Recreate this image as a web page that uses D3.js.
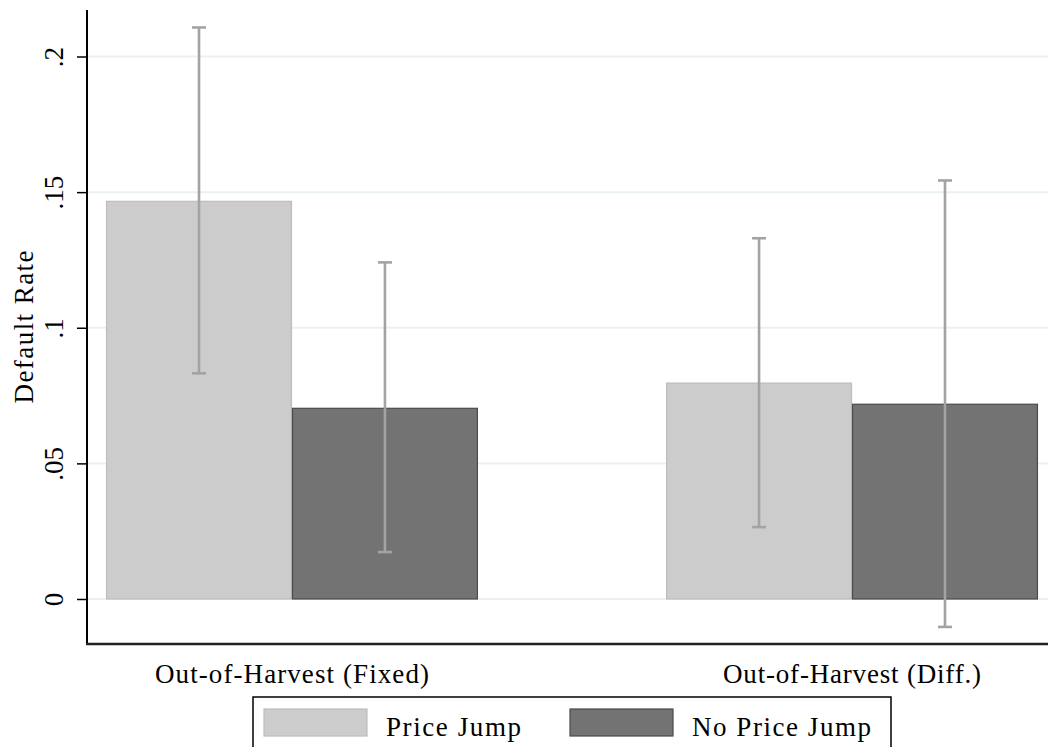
<!DOCTYPE html>
<html><head><meta charset="utf-8">
<script src="https://cdn.jsdelivr.net/npm/d3@7"></script>
<style>body{margin:0;background:#fff}svg{display:block}</style>
</head><body>
<svg id="c" width="1048" height="747"></svg>
<script>
const groups = ["Out-of-Harvest (Fixed)", "Out-of-Harvest (Diff.)"];
const series = ["Price Jump", "No Price Jump"];
const means = [[0.1466, 0.0703], [0.0796, 0.0718]];
const lower = [[0.0832, 0.0173], [0.0265, -0.0103]];
const upper = [[0.2107, 0.1241], [0.1330, 0.1543]];
const yTicks = [0, 0.05, 0.1, 0.15, 0.2];
const yTickLabels = ["0", ".05", ".1", ".15", ".2"];
const colors = ["#cccccc", "#737373"];
const strokes = ["#bdbdbd", "#4a4a4a"];

const svg = d3.select("#c");
const font = "'Liberation Serif', 'DejaVu Serif', serif";
const fs = 27;
const y = d3.scaleLinear().domain([0, 0.2]).range([599, 56.5]);
const x = d3.scaleBand().domain(groups).range([87, 1057]).paddingInner(0.336).paddingOuter(0.034);
const xs = d3.scaleBand().domain(series).range([0, x.bandwidth()]);

// grid
svg.append("g").selectAll("line").data(yTicks).join("line")
  .attr("x1", 88).attr("x2", 1048).attr("y1", d => y(d)).attr("y2", d => y(d))
  .attr("stroke", "#eaf1f3").attr("stroke-width", 2);

// bars
const rows = [];
groups.forEach((g, i) => series.forEach((s, j) => rows.push({g, s, i, j, v: means[i][j], lo: lower[i][j], hi: upper[i][j]})));
svg.append("g").selectAll("rect").data(rows).join("rect")
  .attr("x", d => x(d.g) + xs(d.s) + 0.5)
  .attr("width", xs.bandwidth() - 1)
  .attr("y", d => y(d.v))
  .attr("height", d => y(0) - y(d.v))
  .attr("fill", d => colors[d.j])
  .attr("stroke", d => strokes[d.j]).attr("stroke-width", 1.2);

// error bars
const eb = svg.append("g").attr("stroke", "#a3a3a3").attr("stroke-width", 2.6);
rows.forEach(d => {
  const cx = x(d.g) + xs(d.s) + xs.bandwidth() / 2;
  eb.append("line").attr("x1", cx).attr("x2", cx).attr("y1", y(d.hi)).attr("y2", y(d.lo));
  eb.append("line").attr("x1", cx - 7).attr("x2", cx + 7).attr("y1", y(d.hi)).attr("y2", y(d.hi));
  eb.append("line").attr("x1", cx - 7).attr("x2", cx + 7).attr("y1", y(d.lo)).attr("y2", y(d.lo));
});

// y axis
const yAxis = d3.axisLeft(y).tickValues(yTicks).tickFormat((d, i) => yTickLabels[i]).tickSize(10);
const ga = svg.append("g").attr("transform", "translate(87,0)").call(yAxis);
ga.select(".domain").attr("d", "M0,10V644").attr("stroke", "#000").attr("stroke-width", 2);
ga.selectAll(".tick line").attr("stroke", "#000").attr("stroke-width", 1.5);
ga.selectAll(".tick text").attr("font-family", font).attr("font-size", fs).attr("fill", "#000")
  .attr("text-anchor", "middle").attr("x", 0).attr("y", 0).attr("dy", "0")
  .attr("transform", "translate(-24,0) rotate(-90)");

// x axis line
svg.append("line").attr("x1", 86).attr("x2", 1048).attr("y1", 644).attr("y2", 644).attr("stroke", "#222").attr("stroke-width", 2.5);

// x labels
const xLabelWidths = [274, 258];
svg.append("g").selectAll("text").data(groups).join("text")
  .attr("x", d => x(d) + x.bandwidth() / 2).attr("y", 683)
  .attr("text-anchor", "middle").attr("font-family", font).attr("font-size", fs)
  .attr("textLength", (d, i) => xLabelWidths[i]).attr("lengthAdjust", "spacing").text(d => d);

// y title
svg.append("text").attr("transform", "translate(33,327) rotate(-90)").attr("text-anchor", "middle")
  .attr("font-family", font).attr("font-size", fs).attr("textLength", 153).attr("lengthAdjust", "spacing").text("Default Rate");

// legend
const lg = svg.append("g");
lg.append("rect").attr("x", 253).attr("y", 697).attr("width", 638).attr("height", 70)
  .attr("fill", "#fff").attr("stroke", "#000").attr("stroke-width", 1.5);
const lx = [264, 570];
const lw = [135, 179];
series.forEach((s, j) => {
  lg.append("rect").attr("x", lx[j]).attr("y", 709).attr("width", 103).attr("height", 27)
    .attr("fill", colors[j]).attr("stroke", strokes[j]).attr("stroke-width", 1.2);
  lg.append("text").attr("x", lx[j] + 122).attr("y", 736).attr("font-family", font).attr("font-size", fs)
    .attr("textLength", lw[j]).attr("lengthAdjust", "spacing").text(s);
});
</script>
</body></html>
